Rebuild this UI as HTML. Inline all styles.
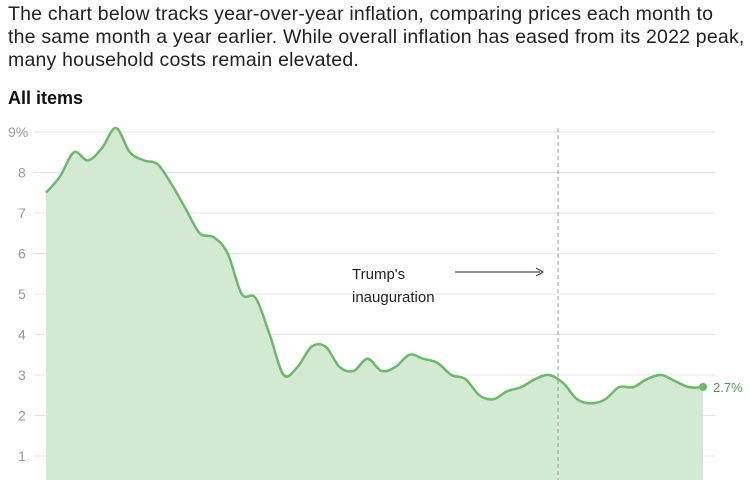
<!DOCTYPE html>
<html><head><meta charset="utf-8"><style>
body{margin:0;width:750px;height:480px;overflow:hidden;background:#fff;font-family:"Liberation Sans",sans-serif;}
.intro{position:absolute;left:8px;top:3px;width:745px;font-size:19.5px;line-height:23px;color:#222;letter-spacing:0.2px;white-space:nowrap}
.h{position:absolute;left:8px;top:88px;font-size:18px;font-weight:bold;color:#111}
svg{position:absolute;left:0;top:0}
</style></head><body>
<div class="intro">The chart below tracks year-over-year inflation, comparing prices each month to<br>the same month a year earlier. While overall inflation has eased from its 2022 peak,<br>many household costs remain elevated.</div>
<div class="h">All items</div>
<svg width="750" height="480" id="s">
<g id="grid" stroke="#e4e4e4" stroke-width="1"></g>
<g id="lab" font-size="14" fill="#999" font-family="Liberation Sans,sans-serif"></g>
<path id="area" fill="#d3e9d1"/>
<path id="line" fill="none" stroke="#6bb96b" stroke-width="2.5"/>
<line x1="558" y1="128" x2="558" y2="480" stroke="#999" stroke-dasharray="4,3"/>
<text x="352" y="279" font-size="15" fill="#222">Trump's</text>
<text x="352" y="302" font-size="15" fill="#222">inauguration</text>
<line x1="455" y1="272" x2="540" y2="272" stroke="#222" stroke-width="1"/>
<path d="M536,268 L543,272 L536,276" fill="none" stroke="#222" stroke-width="1"/>
<circle cx="703" cy="387" r="4" fill="#6bb96b"/>
<text x="713" y="392" font-size="13" fill="#4a9e4a">2.7%</text>
</svg>
<script>
var Y=function(v){return 132+(9-v)*40.5};
var g=document.getElementById('grid'),l=document.getElementById('lab'),ns='http://www.w3.org/2000/svg';
for(var v=1;v<=9;v++){var ln=document.createElementNS(ns,'line');ln.setAttribute('x1',34);ln.setAttribute('x2',715);ln.setAttribute('y1',Y(v));ln.setAttribute('y2',Y(v));g.appendChild(ln);
var t=document.createElementNS(ns,'text');t.setAttribute('x',v==9?8:18);t.setAttribute('y',Y(v)+5);t.textContent=v==9?'9%':v;l.appendChild(t);}
var d=[7.5,7.9,8.5,8.3,8.6,9.1,8.5,8.3,8.2,7.7,7.1,6.5,6.4,6.0,5.0,4.9,4.0,3.0,3.2,3.7,3.7,3.2,3.1,3.4,3.1,3.2,3.5,3.4,3.3,3.0,2.9,2.5,2.4,2.6,2.7,2.9,3.0,2.8,2.4,2.3,2.4,2.7,2.7,2.9,3.0,2.85,2.7,2.7];
var dx=657/(d.length-1),P=d.map(function(v,i){return[46+i*dx,Y(v)]});
var p='M'+P[0][0]+','+P[0][1];
for(var i=0;i<P.length-1;i++){var a=P[Math.max(0,i-1)],b=P[i],c=P[i+1],e=P[Math.min(P.length-1,i+2)];
p+=' C'+(b[0]+(c[0]-a[0])/6)+','+(b[1]+(c[1]-a[1])/6)+' '+(c[0]-(e[0]-b[0])/6)+','+(c[1]-(e[1]-b[1])/6)+' '+c[0]+','+c[1];}
document.getElementById('line').setAttribute('d',p);
document.getElementById('area').setAttribute('d',p+' L703,480 L46,480 Z');
</script>
</body></html>
